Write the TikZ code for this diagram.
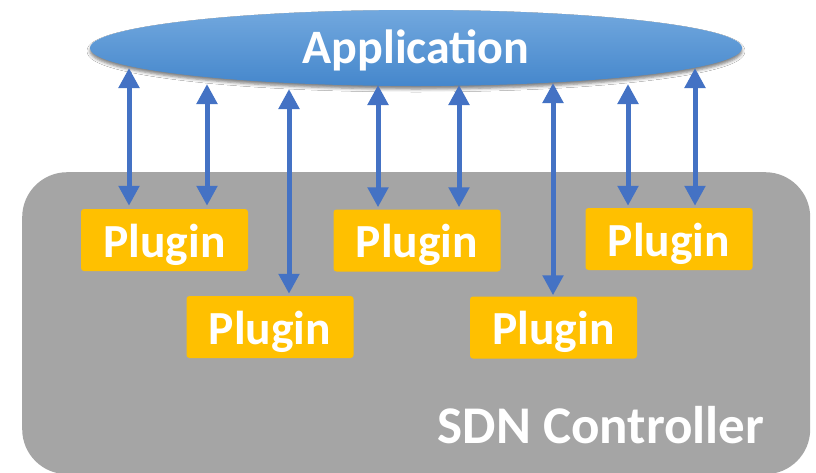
\documentclass[tikz,border=0pt]{standalone}
\usepackage{fontspec}
\setmainfont{Carlito}
\usetikzlibrary{shapes.geometric,shadows.blur,arrows.meta}

\definecolor{ctrlgray}{HTML}{A5A5A5}
\definecolor{plugyellow}{HTML}{FFC000}
\definecolor{linkblue}{HTML}{4472C4}
\definecolor{apptop}{HTML}{72A8DE}
\definecolor{appbottom}{HTML}{4587CC}

\tikzset{
  plugin/.style={rectangle, rounded corners=3pt, fill=plugyellow, text=white,
    minimum width=167pt, minimum height=62pt, inner sep=0pt,
    font=\fontsize{47.5}{47.5}\selectfont\bfseries, text height=34pt, text depth=0pt},
  link/.style={draw=linkblue, line width=5pt,
    {Triangle[width=20pt,length=20pt]}-{Triangle[width=20pt,length=20pt]}},
}

\begin{document}
\begin{tikzpicture}[x=1pt,y=-1pt]
  \useasboundingbox (0,0) rectangle (816,472);
  \fill[white] (0,0) rectangle (816,472);

  % controller body (bottom edge runs just past the page)
  \node (ctrl) [rectangle, rounded corners=45pt, fill=ctrlgray, inner sep=0pt,
    minimum width=788pt, minimum height=302pt, anchor=north west] at (22,172) {};
  \node (ctrllabel) [text=white, font=\fontsize{53}{53}\selectfont\bfseries,
    text height=33pt, text depth=0pt, inner sep=0pt] at (601,426.5) {SDN Controller};

  % application
  \node (app) [ellipse, minimum width=652pt, minimum height=76pt, inner sep=0pt,
    top color=apptop, bottom color=appbottom, text=white,
    font=\fontsize{48}{48}\selectfont\bfseries, text height=30pt, text depth=0pt,
    blur shadow={shadow xshift=0pt, shadow yshift=-3pt, shadow opacity=50,
      shadow blur radius=3pt}] at (416,48) {Application};

  % plugins
  \node (p1) [plugin] at (164.5,240) {Plugin};
  \node (p2) [plugin] at (270,327) {Plugin};
  \node (p3) [plugin] at (417,240.5) {Plugin};
  \node (p4) [plugin] at (553.5,327.5) {Plugin};
  \node (p5) [plugin] at (669,239) {Plugin};

  % upper ends of the links, just under the ellipse
  \coordinate (t1) at (129,68);
  \coordinate (t2) at (207,84);
  \coordinate (t3) at (289,89);
  \coordinate (t4) at (378,85);
  \coordinate (t5) at (459,85);
  \coordinate (t6) at (553,83);
  \coordinate (t7) at (628,84);
  \coordinate (t8) at (695,68);

  \draw[link] (t1) -- ([yshift=3pt]t1 |- p1.north);
  \draw[link] (t2) -- ([yshift=3pt]t2 |- p1.north);
  \draw[link] (t3) -- ([yshift=2pt]t3 |- p2.north);
  \draw[link] (t4) -- ([yshift=2pt]t4 |- p3.north);
  \draw[link] (t5) -- ([yshift=2pt]t5 |- p3.north);
  \draw[link] (t6) -- ([yshift=1pt]t6 |- p4.north);
  \draw[link] (t7) -- ([yshift=2pt]t7 |- p5.north);
  \draw[link] (t8) -- ([yshift=2pt]t8 |- p5.north);
\end{tikzpicture}
\end{document}
